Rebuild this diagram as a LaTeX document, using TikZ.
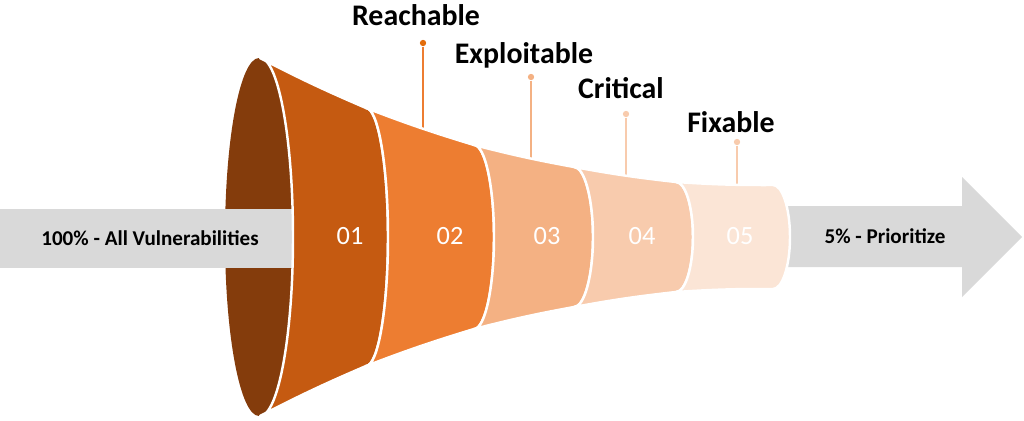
\documentclass[tikz,border=0pt]{standalone}
\usepackage{fontspec}
\setmainfont{Carlito}
\usepackage{tikz}
\usepackage{xcolor}
\definecolor{mouth}{HTML}{843C0C}
\definecolor{segA}{HTML}{C55A11}
\definecolor{segB}{HTML}{ED7D31}
\definecolor{segC}{HTML}{F4B183}
\definecolor{segD}{HTML}{F8CBAD}
\definecolor{segE}{HTML}{FBE5D6}
\definecolor{band}{HTML}{D9D9D9}
\definecolor{dotA}{HTML}{E36C0A}

\begin{document}
\begin{tikzpicture}[x=0.02cm,y=0.02cm]
  \tikzstyle{seg}=[draw=white,line width=1.4pt,line join=round]
  \tikzstyle{num node}=[text=white,font=\fontsize{15}{18}\selectfont,anchor=base]
  \tikzstyle{tag node}=[font=\bfseries\fontsize{17}{20}\selectfont,anchor=base]
  \tikzstyle{band node}=[font=\bfseries\fontsize{12}{14}\selectfont,anchor=base]
  \tikzstyle{pin dot}=[circle,inner sep=0pt,minimum size=3.6pt]
  \tikzstyle{pin line}=[line width=1pt]
  \useasboundingbox (0,0) rectangle (1024,420);
  \fill[mouth] (259,183) ellipse [x radius=34*0.02cm,y radius=179*0.02cm];
  \fill[band] (0,152) rectangle (300,211);
  \fill[band] (780,153) -- (962,153) -- (962,123) -- (1022,183)
    -- (962,243) -- (962,214) -- (780,214) -- cycle;
  \node[pin dot,fill=dotA] (dR) at (423,377) {};
  \node[pin dot,fill=segC] (dE) at (531,343) {};
  \node[pin dot,fill=segD] (dC) at (626,306) {};
  \node[pin dot,fill=segD] (dF) at (737,278) {};
  \coordinate (eR) at (423,285);
  \coordinate (eE) at (531,255);
  \coordinate (eC) at (626,235);
  \coordinate (eF) at (737,225);
  \draw[pin line,segB] (dR) -- (eR);
  \draw[pin line,segC] (dE) -- (eE);
  \draw[pin line,segD] (dC) -- (eC);
  \draw[pin line,segD] (dF) -- (eF);
  \foreach \xa/\ha/\ra/\xb/\hb/\rb/\col in
    {260/179/33/366/129/22/segA,366/129/22/474/92/20/segB,
     474/92/20/574/70/19/segC,574/70/19/676/55/17/segD,
     676/55/17/773/52/17/segE}
    \filldraw[seg,fill=\col] (\xa,183+\ha) to[bend right=2] (\xb,183+\hb)
      arc[start angle=90,end angle=-90,x radius=\rb*0.02cm,y radius=\hb*0.02cm]
      to[bend right=2] (\xa,183-\ha)
      arc[start angle=-90,end angle=90,x radius=\ra*0.02cm,y radius=\ha*0.02cm]
      -- cycle;
  \foreach \x/\n in {350/01,450/02,547/03,642/04,740/05}
    \node[num node] (n\n) at (\x,176) {\n};
  \node[tag node] (reach) at (416,394) {Reachable};
  \node[tag node] (explo) at (524,357) {Exploitable};
  \node[tag node] (crit) at (621,321) {Critical};
  \node[tag node] (fix) at (731,288) {Fixable};
  \node[band node] (all) at (150,175) {100\% - All Vulnerabilities};
  \node[band node] (prio) at (885,177) {5\% - Prioritize};
\end{tikzpicture}
\end{document}
